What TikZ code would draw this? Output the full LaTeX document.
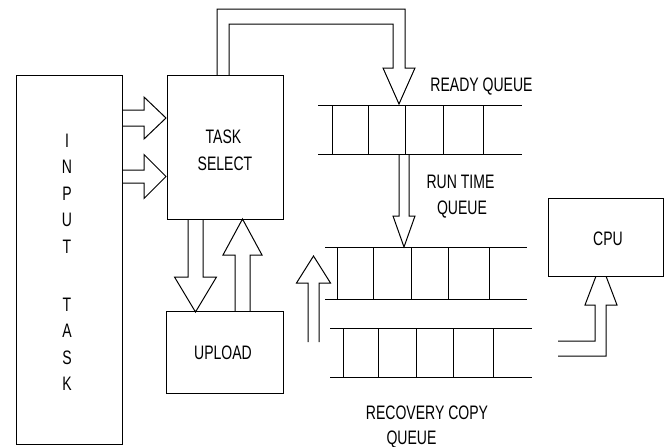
\documentclass[tikz,border=0pt]{standalone}
\usepackage{fontspec}
\setmainfont{Liberation Sans}[FakeStretch=0.72]
\newcommand{\blockarrow}[6]{% tail, angle, length, shaft half, head half, head length
  \draw[arrline,shift={(#1)},rotate=#2] (0,#4) -- (#3-#6,#4) -- (#3-#6,#5) -- (#3,0)
    -- (#3-#6,-#5) -- (#3-#6,-#4) -- (0,-#4);}
\begin{document}
\begin{tikzpicture}[x=1pt,y=-1pt,line width=1pt,
  arrline/.style={draw=black,line width=1pt,line join=miter},
  box/.style={draw=black,fill=white,line width=1pt,inner sep=0pt},
  lbl/.style={inner sep=0pt,anchor=base,font=\fontsize{19.5}{24}\selectfont}]
\useasboundingbox (0,0) rectangle (667,447);

% boxes
\node[box,minimum width=106pt,minimum height=369pt] (input) at (69,259.5) {};
\node[box,minimum width=116pt,minimum height=144pt] (select) at (225,147) {};
\node[box,minimum width=117pt,minimum height=82pt] (upload) at (224.5,352) {};

% queues
\coordinate (rq) at (318,105);
\coordinate (tq) at (325,247);
\coordinate (cq) at (330,328);
\draw (318,105) -- (522,105) (318,154) -- (522,154);
\foreach \x in {332,368,405,443,483} \draw (\x,105) -- (\x,154);
\draw (325,247) -- (527,247) (325,299) -- (527,299);
\foreach \x in {337,373,411,448,489} \draw (\x,247) -- (\x,299);
\draw (330,328) -- (532,328) (330,377) -- (532,377);
\foreach \x in {343,378,416,453,493} \draw (\x,328) -- (\x,377);

% block arrows
\blockarrow{122,118}{0}{44}{8}{21}{22}
\blockarrow{122,176.5}{0}{44}{6.5}{22}{22}
\blockarrow{195.5,219}{-90}{93}{7.5}{21}{35}
\blockarrow{242.5,311}{90}{92}{7.5}{19.5}{36}
\blockarrow{404,154}{-90}{93}{5}{11}{31}
\blockarrow{313.5,342}{90}{86}{5.5}{17}{27}

% bent arrow from task select to ready queue
\draw[arrline] (217,75) -- (217,9) -- (405,9) -- (405,68) -- (415,68) -- (399,104)
  -- (383,68) -- (393,68) -- (393,24) -- (229,24) -- (229,75);

% bent arrow to CPU
\draw[arrline] (558,341) -- (595,341) -- (595,305) -- (585,305) -- (601,263)
  -- (617,305) -- (606,305) -- (606,356) -- (558,356);
\node[box,minimum width=115pt,minimum height=78pt] (cpu) at (605.5,237) {};

% texts in boxes
\foreach \ch/\y [count=\i] in {I/147,N/173.5,P/200,U/226.5,T/253,T/311,A/337.5,S/364,K/390.5}
  \node[lbl] (in\i) at (67,\y) {\ch};
\node[lbl] (ts1) at (223.5,143) {TASK};
\node[lbl] (ts2) at (225,170) {SELECT};
\node[lbl] (up) at (223,359) {UPLOAD};
\node[lbl] (cpulbl) at (608,245) {CPU};

% labels
\node[lbl] (lready) at (481.5,91) {READY QUEUE};
\node[lbl] (lrun1) at (460.5,188) {RUN TIME};
\node[lbl] (lrun2) at (462,214) {QUEUE};
\node[lbl] (lrec1) at (427,419) {RECOVERY COPY};
\node[lbl] (lrec2) at (411.5,444) {QUEUE};
\end{tikzpicture}
\end{document}
